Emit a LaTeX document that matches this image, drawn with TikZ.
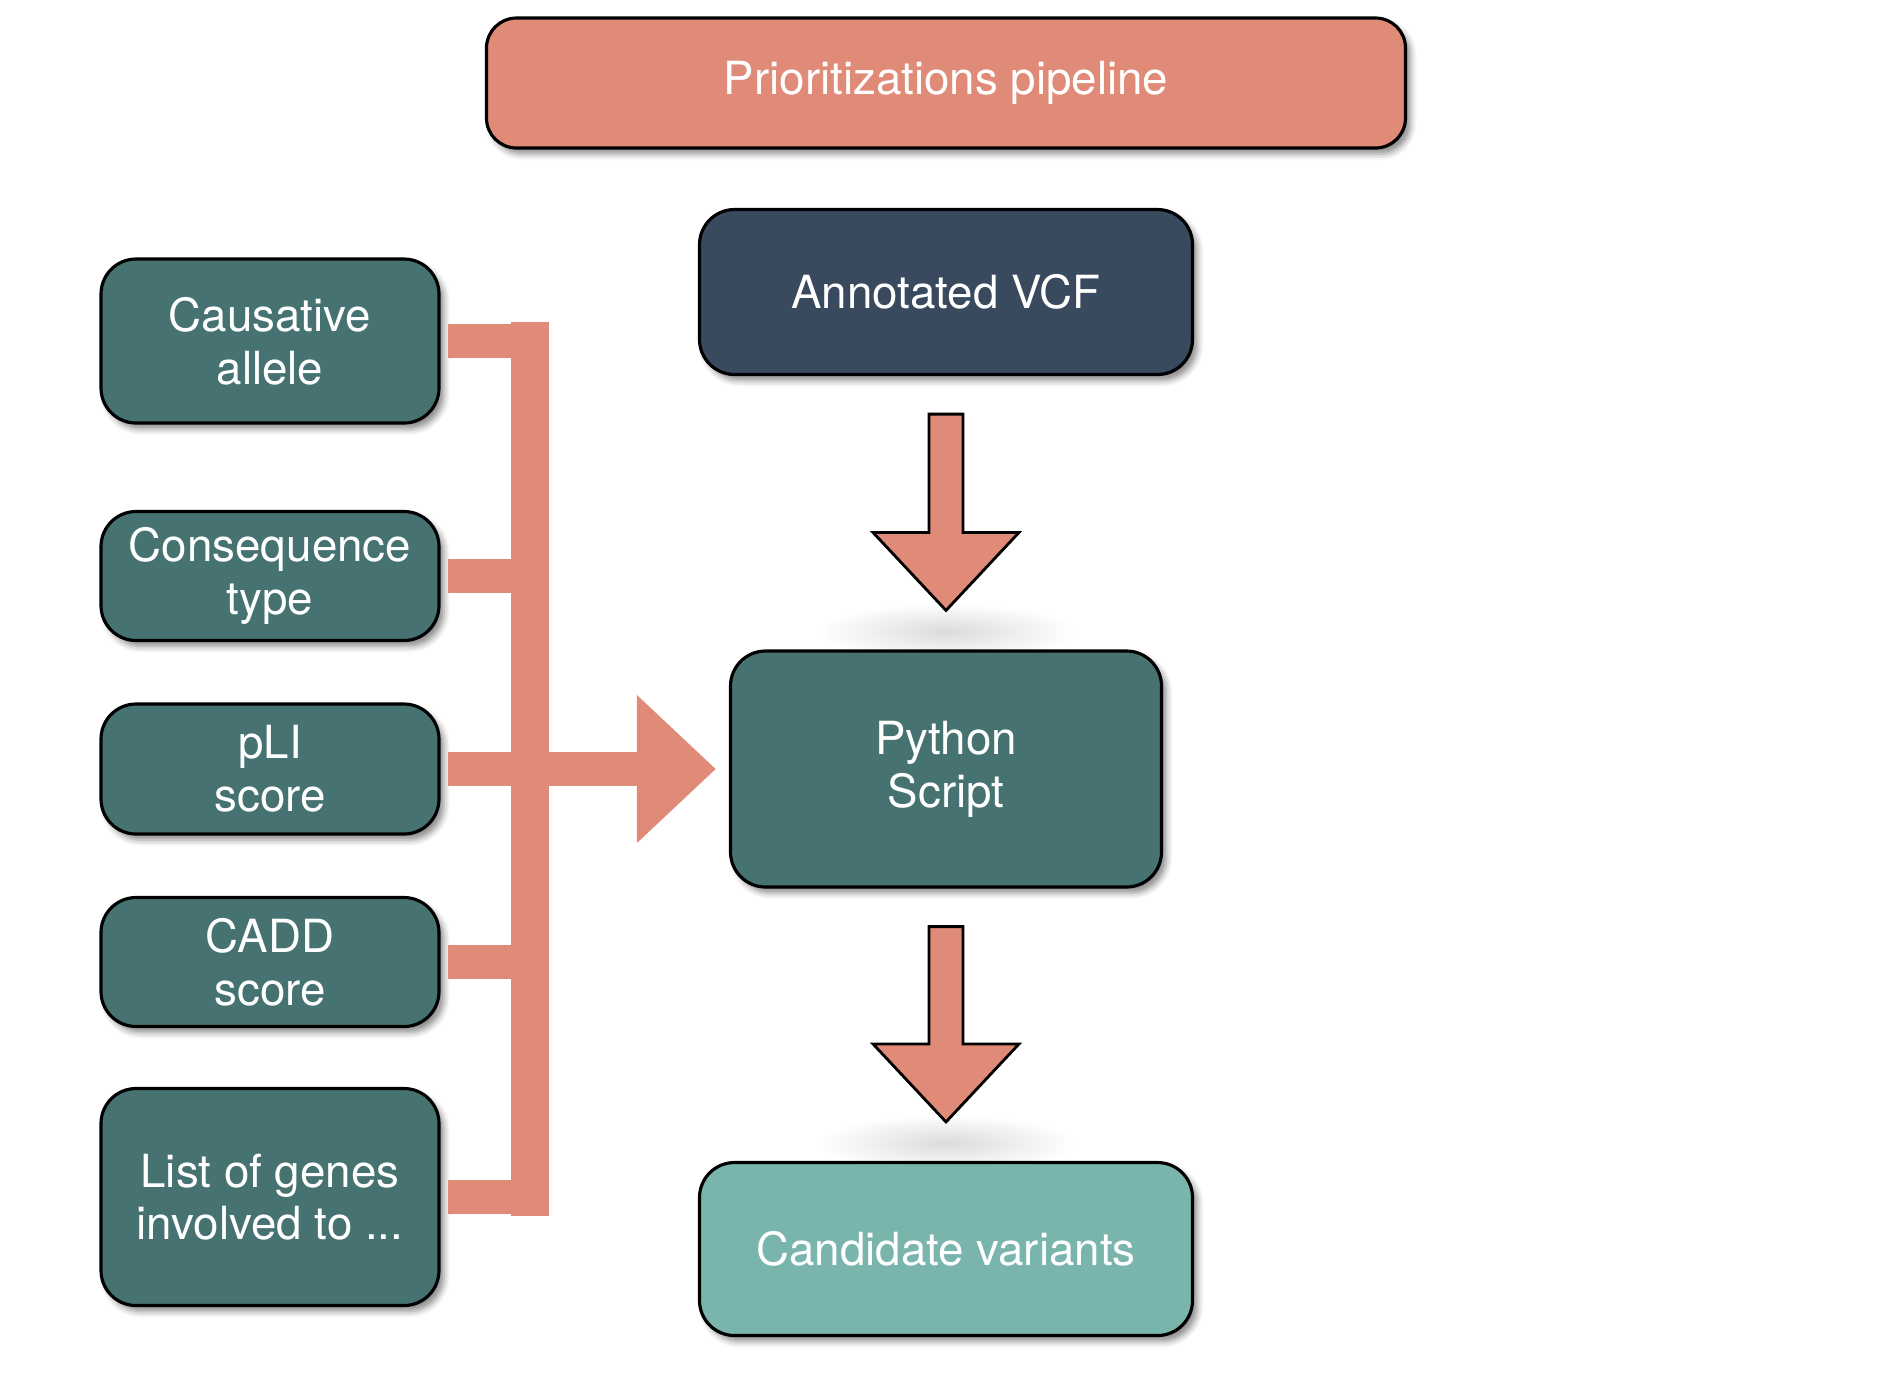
\documentclass[tikz,border=0pt]{standalone}
\usepackage{fontspec}
\setmainfont{TeX Gyre Heros}
\usepackage{tikz}
\usetikzlibrary{arrows.meta,calc,backgrounds,shadows.blur}

\definecolor{salmon}{HTML}{E08A78}
\definecolor{slate}{HTML}{394A5E}
\definecolor{tealbox}{HTML}{467372}
\definecolor{mint}{HTML}{79B5AD}

\begin{document}
\begin{tikzpicture}
	\useasboundingbox (0,0) rectangle (18.9,-13.9);
	\begin{scope}
		[
			styleBox/.style={
				draw=black, line width=0.9pt, rounded corners=0.35cm,
				text=white, align=center, inner sep=0pt,
				font=\fontsize{13}{15}\selectfont,
				blur shadow={shadow xshift=0.05cm, shadow yshift=-0.06cm,
					shadow blur radius=0.06cm, shadow opacity=45}
				},
			styleFactor/.style={styleBox, fill=tealbox, minimum width=3.38cm},
			styleStep/.style={styleBox, minimum width=4.93cm},
		]
		\node(title)[styleBox, fill=salmon, rounded corners=0.3cm,
			minimum width=9.19cm, minimum height=1.30cm] at (9.46,-0.83) {Prioritizations pipeline};
		\node(vcf)[styleStep, fill=slate, minimum height=1.65cm] at (9.46,-2.92) {Annotated VCF};
		\node(script)[styleStep, fill=tealbox, minimum width=4.31cm,
			minimum height=2.36cm] at (9.46,-7.69) {Python\\Script};
		\node(cand)[styleStep, fill=mint, minimum height=1.73cm] at (9.46,-12.49) {Candidate variants};

		\node(cause)[styleFactor, minimum height=1.64cm] at (2.70,-3.41) {Causative\\allele};
		\node(conseq)[styleFactor, minimum height=1.29cm] at (2.70,-5.76) {Consequence\\type};
		\node(pli)[styleFactor, minimum height=1.30cm] at (2.70,-7.69) {pLI\\score};
		\node(cadd)[styleFactor, minimum height=1.29cm] at (2.70,-9.62) {CADD\\score};
		\node(genes)[styleFactor, minimum height=2.17cm] at (2.70,-11.97) {List of genes\\involved to ...};
	\end{scope}

	\begin{scope}
		[ feed/.style = {draw=salmon, line width=0.34cm},
			blockarrow/.style = {fill=salmon, draw=black, line width=0.8pt, line join=miter}]
		\coordinate (bartop) at ($(cause.east)+(0.89,0)$);
		\foreach \n in {cause,conseq,pli,cadd,genes}
			\draw[feed, shorten <=0.07cm] (\n.east) -- (\n.east -| bartop);
		\draw[feed, line width=0.38cm, line cap=rect] (bartop) -- (bartop |- genes.east);
		\draw[feed, -{Triangle[length=0.79cm, width=1.43cm]}, shorten >=0.13cm]
			(pli.east -| bartop) -- (script.west);

		% step arrows down the pipeline
		\foreach \a/\b in {vcf/script, script/cand}{
			\begin{scope}[on background layer]
				\shade[inner color=black!14, outer color=white]
					($(\b.north)+(0,0.18)$) ellipse (1.3 and 0.28);
			\end{scope}
			\draw[blockarrow] let \p1=($(\a.south)+(0,-0.38)$), \p2=($(\b.north)+(0,0.39)$) in
				(\x1-0.17cm,\y1) -- (\x1+0.17cm,\y1) -- (\x1+0.17cm,\y2+0.78cm)
				-- (\x1+0.73cm,\y2+0.78cm) -- (\x2,\y2) -- (\x1-0.73cm,\y2+0.78cm)
				-- (\x1-0.17cm,\y2+0.78cm) -- cycle;
		}
	\end{scope}
\end{tikzpicture}
\end{document}
